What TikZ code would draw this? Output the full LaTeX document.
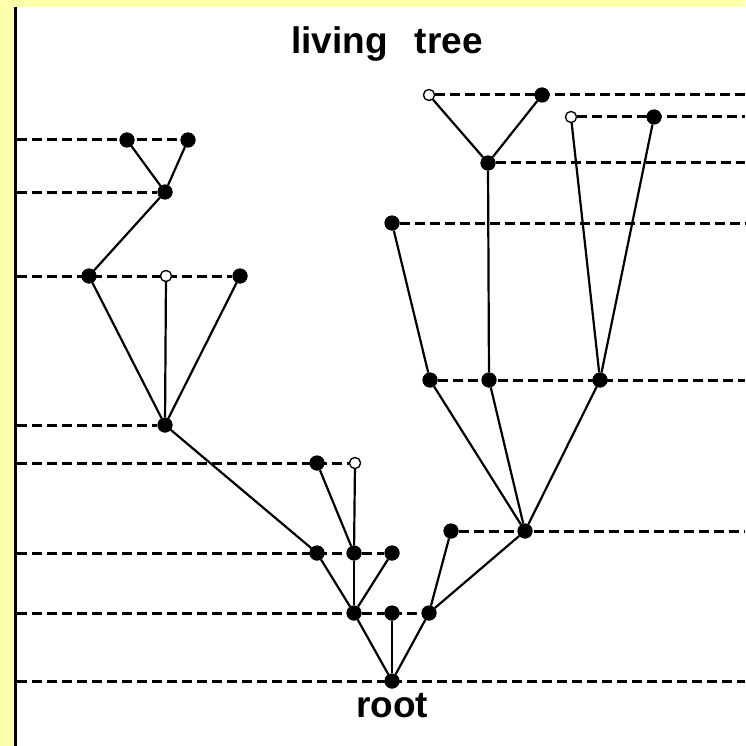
\documentclass[tikz,border=0pt]{standalone}
\usepackage{fontspec}
\setmainfont{Liberation Sans}
\definecolor{bgyellow}{RGB}{255,255,172}
\begin{document}
\begin{tikzpicture}[x=1pt,y=-1pt,
  fdot/.style={circle,fill=black,inner sep=0pt,minimum size=15pt},
  odot/.style={circle,draw=black,fill=white,line width=1.2pt,inner sep=0pt,minimum size=11pt},
  branch/.style={line width=2.2pt},
  level/.style={line width=3pt,dash pattern=on 10pt off 5pt},
  lbl/.style={font=\fontsize{37}{40}\selectfont\bfseries,inner sep=0pt}]
\useasboundingbox (0,0) rectangle (745,746);
\fill[bgyellow] (0,0) rectangle (745,746);
\fill[white] (17,7) rectangle (745,746);
\draw[line width=2.8pt] (15.5,7) -- (15.5,746);
% nodes (left subtree)
\node[fdot] (A1) at (127,140) {};
\node[fdot] (A2) at (188,140) {};
\node[fdot] (B) at (165,192) {};
\node[fdot] (C1) at (89,276) {};
\node[odot] (C2) at (166,276) {};
\node[fdot] (C3) at (240,276) {};
\node[fdot] (D) at (165,425) {};
\node[fdot] (E1) at (317,463) {};
\node[odot] (E2) at (355,463) {};
\node[fdot] (F1) at (317,553) {};
\node[fdot] (F2) at (354,553) {};
\node[fdot] (F3) at (392,553) {};
\node[fdot] (G1) at (354,613) {};
\node[fdot] (G2) at (392,613) {};
\node[fdot] (G3) at (429,613) {};
\node[fdot] (R) at (392,681) {};
% nodes (right subtree)
\node[fdot] (H) at (451,531) {};
\node[fdot] (J) at (525,531) {};
\node[fdot] (K1) at (430,380) {};
\node[fdot] (K2) at (489,380) {};
\node[fdot] (K3) at (600,380) {};
\node[fdot] (L) at (392,223) {};
\node[fdot] (M) at (488,163) {};
\node[odot] (N1) at (429,95) {};
\node[fdot] (N2) at (542,95) {};
\node[odot] (P1) at (571,117) {};
\node[fdot] (P2) at (654,117) {};
% coordinates at the edges
\coordinate (lA) at (17,140);
\coordinate (lB) at (17,192);
\coordinate (lC) at (17,276);
\coordinate (lD) at (17,425);
\coordinate (lE) at (17,463);
\coordinate (lF) at (17,553);
\coordinate (lG) at (17,613);
\coordinate (lR) at (17,681);
\coordinate (rR) at (745,681);
\coordinate (rH) at (745,531);
\coordinate (rK) at (745,380);
\coordinate (rL) at (745,223);
\coordinate (rM) at (745,163);
\coordinate (rN) at (745,95);
\coordinate (rP) at (745,117);
% dashed levels
\draw[level] (lA) -- (A2);
\draw[level] (lB) -- (B);
\draw[level] (lC) -- (C3);
\draw[level] (lD) -- (D);
\draw[level] (lE) -- (E2);
\draw[level] (lF) -- (F3);
\draw[level] (lG) -- (G3);
\draw[level] (lR) -- (rR);
\draw[level] (H) -- (rH);
\draw[level] (K1) -- (rK);
\draw[level] (L) -- (rL);
\draw[level] (M) -- (rM);
\draw[level] (N1) -- (rN);
\draw[level] (P1) -- (rP);
% branches
\draw[branch] (A1) -- (B);
\draw[branch] (A2) -- (B);
\draw[branch] (B) -- (C1);
\draw[branch] (C1) -- (D);
\draw[branch] (C2) -- (D);
\draw[branch] (C3) -- (D);
\draw[branch] (D) -- (F1);
\draw[branch] (E1) -- (F2);
\draw[branch] (E2) -- (F2);
\draw[branch] (F1) -- (G1);
\draw[branch] (F2) -- (G1);
\draw[branch] (F3) -- (G1);
\draw[branch] (G1) -- (R);
\draw[branch] (G2) -- (R);
\draw[branch] (G3) -- (R);
\draw[branch] (G3) -- (H);
\draw[branch] (G3) -- (J);
\draw[branch] (K1) -- (J);
\draw[branch] (K2) -- (J);
\draw[branch] (K3) -- (J);
\draw[branch] (L) -- (K1);
\draw[branch] (M) -- (K2);
\draw[branch] (N1) -- (M);
\draw[branch] (N2) -- (M);
\draw[branch] (P1) -- (K3);
\draw[branch] (P2) -- (K3);
% redraw dots on top
\foreach \n in {A1,A2,B,C1,C3,D,E1,F1,F2,F3,G1,G2,G3,R,H,J,K1,K2,K3,L,M,N2,P2}
  \fill (\n) circle (7.5pt);
\foreach \n in {C2,E2,N1,P1}
  \draw[line width=1.2pt,fill=white] (\n) circle (5.5pt);
% labels
\node[lbl,anchor=base west] (title) at (291,54) {living\hspace{27pt}tree};
\node[lbl,anchor=base] (rootlbl) at (392,717) {root};
\end{tikzpicture}
\end{document}
